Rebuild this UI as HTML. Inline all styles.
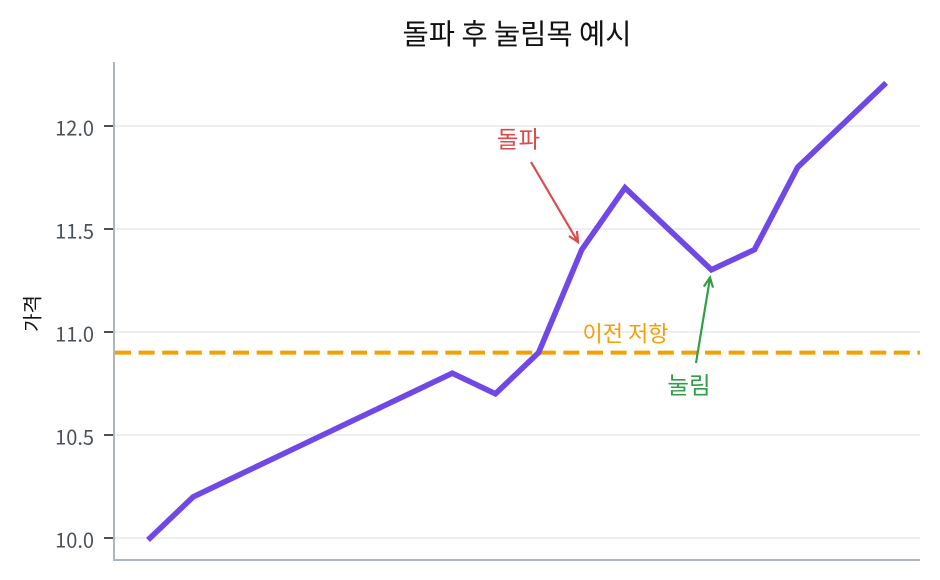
<!DOCTYPE html>
<html>
<head>
<meta charset="utf-8">
<style>
  html, body { margin: 0; padding: 0; background: #ffffff; }
  svg { display: block; }
  text { font-family: "Liberation Sans", "Noto Sans CJK KR", sans-serif; }
  .k { font-family: "Noto Sans CJK KR", "Liberation Sans", sans-serif; }
</style>
</head>
<body>
<svg width="940" height="580" viewBox="0 0 940 580" xmlns="http://www.w3.org/2000/svg">
  <rect x="0" y="0" width="940" height="580" fill="#ffffff"/>

  <!-- grid -->
  <g stroke="#e6e9ed" stroke-width="1.6">
    <line x1="114" y1="126" x2="920" y2="126"/>
    <line x1="114" y1="229" x2="920" y2="229"/>
    <line x1="114" y1="332" x2="920" y2="332"/>
    <line x1="114" y1="435" x2="920" y2="435"/>
    <line x1="114" y1="538" x2="920" y2="538"/>
  </g>

  <!-- ticks -->
  <g stroke="#495057" stroke-width="2">
    <line x1="104" y1="126" x2="114" y2="126"/>
    <line x1="104" y1="229" x2="114" y2="229"/>
    <line x1="104" y1="332" x2="114" y2="332"/>
    <line x1="104" y1="435" x2="114" y2="435"/>
    <line x1="104" y1="538" x2="114" y2="538"/>
  </g>

  <!-- tick labels -->
  <g class="k" font-size="20" fill="#495057" text-anchor="end" dominant-baseline="central">
    <text class="k" x="94" y="127">12.0</text>
    <text class="k" x="94" y="230">11.5</text>
    <text class="k" x="94" y="333">11.0</text>
    <text class="k" x="94" y="436">10.5</text>
    <text class="k" x="94" y="539">10.0</text>
  </g>

  <!-- spines -->
  <g stroke="#adb5bd" stroke-width="2">
    <line x1="114" y1="62" x2="114" y2="561"/>
    <line x1="113" y1="560" x2="920" y2="560"/>
  </g>

  <!-- resistance dashed line -->
  <line x1="115" y1="352.6" x2="920" y2="352.6" stroke="#f59f00" stroke-width="4" stroke-dasharray="16 7.6"/>

  <!-- price line -->
  <polyline fill="none" stroke="#7048e8" stroke-width="5.6" stroke-linejoin="miter" stroke-linecap="square"
    points="150,538 193.2,496.8 236.4,476.2 279.5,455.6 322.7,435 365.9,414.4 409.1,393.8 452.3,373.2 495.4,393.8 538.6,352.6 581.8,249.6 625,187.8 668.2,228.8 711.4,269.8 754.5,249.6 797.7,167.2 840.9,126 884.1,84.8"/>

  <!-- annotations -->
  <g stroke="#dc4a4a" stroke-width="2.2" fill="none">
    <line x1="531" y1="162" x2="578" y2="242"/>
    <polyline points="569,236 578,242 577,231"/>
  </g>
  <text class="k" x="518.5" y="137.5" font-size="23.5" fill="#dc4a4a" text-anchor="middle" dominant-baseline="central">돌파</text>

  <text class="k" x="625.5" y="332.5" font-size="22" fill="#f59f00" text-anchor="middle" dominant-baseline="central">이전 저항</text>

  <g stroke="#2f9e44" stroke-width="2.2" fill="none">
    <line x1="696" y1="363" x2="710" y2="278"/>
    <polyline points="703.8,286.6 710,277.5 713,287.6"/>
  </g>
  <text class="k" x="689" y="383.5" font-size="23.5" fill="#2f9e44" text-anchor="middle" dominant-baseline="central">눌림</text>

  <!-- title -->
  <text class="k" x="517" y="32.5" font-size="28.5" fill="#111111" text-anchor="middle" dominant-baseline="central">돌파 후 눌림목 예시</text>

  <!-- y label -->
  <text class="k" x="0" y="0" font-size="20" fill="#111111" text-anchor="middle" dominant-baseline="central" transform="translate(31,313.5) rotate(-90)">가격</text>
</svg>
</body>
</html>
